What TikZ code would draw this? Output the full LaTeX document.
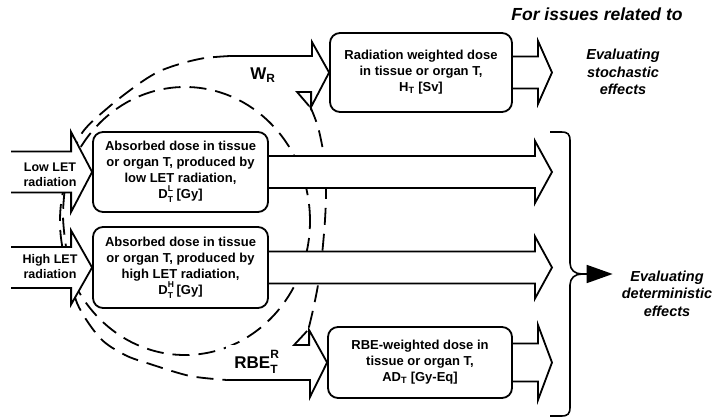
\documentclass[tikz,border=0pt]{standalone}
\usepackage{fontspec}
\setmainfont{Liberation Sans}
\usetikzlibrary{arrows.meta,backgrounds}

% block arrow: tip, length, head length, half shaft, half head
\newcommand\blockarrow[5]{%
  \fill[white] #1 -- ++(-#3,-#5) -- ++(0,#5-#4) -- ++(#3-#2,0) -- ++(0,2*#4) -- ++(#2-#3,0) -- ++(0,#5-#4) -- cycle;
  \draw[blk] #1 ++(-#2,-#4) -- ++(#2-#3,0) -- ++(0,#4-#5) -- #1 -- ++(-#3,#5) -- ++(0,#4-#5) -- ++(#3-#2,0);
}
% stacked super- and subscript
\newcommand\supsub[3]{\rlap{\raisebox{1.05ex}{\fontsize{#3}{#3}\selectfont #1}}\raisebox{-0.55ex}{\fontsize{#3}{#3}\selectfont #2}}

\begin{document}
\begin{tikzpicture}[
	x=1pt, y=-1pt,
	line width=1.8pt,
	font=\fontsize{13}{16}\selectfont\bfseries,
	box/.style={draw, fill=white, rounded corners=10pt, align=center, inner sep=0pt},
	blk/.style={black, line width=1.8pt, line join=miter},
	dashline/.style={black, line width=1.8pt, dash pattern=on 17pt off 9pt},
	effect/.style={align=center, font=\fontsize{14.5}{17.5}\selectfont\bfseries\itshape},
	lbl/.style={font=\fontsize{17}{17}\selectfont\bfseries}
	]
\useasboundingbox (0,0) rectangle (715,417);

% boxes
\node[box, minimum width=182pt, minimum height=79pt] (wr) at (421,72.5)
	{Radiation weighted dose\\in tissue or organ T,\\H\textsubscript{T} [Sv]};
\node[box, minimum width=175pt, minimum height=80pt] (low) at (180.5,172)
	{Absorbed dose in tissue\\or organ T, produced by\\low LET radiation,\\D\supsub{L}{T}{8.5} [Gy]};
\node[box, minimum width=175pt, minimum height=81pt] (high) at (180.5,267.5)
	{Absorbed dose in tissue\\or organ T, produced by\\high LET radiation,\\D\supsub{H}{T}{8.5} [Gy]};
\node[box, minimum width=184pt, minimum height=71pt] (rbe) at (420,362.5)
	{RBE-weighted dose in\\tissue or organ T,\\AD\textsubscript{T} [Gy-Eq]};

% texts
\node[font=\fontsize{17.5}{18}\selectfont\bfseries\itshape] (title) at (597,14) {For issues related to};
\node[effect] (stoch) at (623,72) {Evaluating\\stochastic\\effects};
\node[effect] (det) at (667,293.5) {Evaluating\\deterministic\\effects};
\node[align=center, font=\fontsize{12.5}{15}\selectfont\bfseries] (lowlbl) at (50,174.5) {Low LET\\radiation};
\node[align=center, font=\fontsize{12.5}{15}\selectfont\bfseries] (highlbl) at (50,266.5) {High LET\\radiation};
\node[lbl] (wrlbl) at (263,75) {W\textsubscript{R}};
\node[lbl] (rbelbl) at (256,362) {RBE\supsub{R}{T}{12}};

\coordinate (wrtail) at (230,56);
\coordinate (rbetail) at (227,380);
\coordinate (wrout) at (552,72.5);
\coordinate (lowout) at (552,172);
\coordinate (highout) at (552,267.5);
\coordinate (rbeout) at (552,362.5);

\begin{scope}[on background layer]
% dashed loops
\draw[dashline] (185,221) ellipse [x radius=125pt, y radius=134pt];
\draw[dashline] plot[smooth] coordinates {(wrtail) (205,58) (183,63) (160,71) (140,83) (110,106) (82,133) (68,170) (63,215) (68,260) (77,303) (100,338) (125,355) (150,364) (190,376) (rbetail)};
\draw[dashline] plot[smooth] coordinates {(310,106) (318,127) (324,157) (326,190) (325,220) (322,255) (318,285) (313,310) (308,331)};

% W_R and RBE arrows
\fill[white] (wrtail) -- ++(82,0) -- ++(0,-14) -- (wr.west) -- ++(-18,34.5) -- ++(0,-15) -- ++(-82,0) -- cycle;
\draw[blk] (wrtail) -- ++(82,0) -- ++(0,-14) -- (wr.west) -- ++(-18,34.5) -- ++(0,-15) -- ++(-14,0) -- ++(12,14);
\fill[white] (rbetail) -- ++(83,0) -- ++(0,17) -- (rbe.west) -- ++(-18,-32.5) -- ++(0,15) -- ++(-83,0) -- cycle;
\draw[blk] (rbetail) -- ++(83,0) -- ++(0,17) -- (rbe.west) -- ++(-18,-32.5) -- ++(0,15) -- ++(-15,0) -- ++(13,-14);

% input arrows
\blockarrow{(low.west)}{81}{21}{20.5}{40}
\blockarrow{(high.west)}{81}{21}{20.5}{37}

% output arrows
\blockarrow{(wrout)}{50}{14}{16}{31.5}
\blockarrow{(lowout)}{300}{17}{16}{31}
\blockarrow{(highout)}{300}{17}{16}{31}
\blockarrow{(rbeout)}{50}{14}{19}{37.5}
\end{scope}

% brace
\coordinate (brtop) at (550,132);
\coordinate (brbot) at (550,416);
\coordinate (brtip) at (582,274);
\draw[line width=1.6pt] (brtop) -- (561,132) .. controls (568,132) and (570,134) .. (570,141) -- (570,263)
	.. controls (570,270) and (575,274) .. (brtip) .. controls (575,274) and (570,278) .. (570,285)
	-- (570,407) .. controls (570,414) and (568,416) .. (561,416) -- (brbot);
\draw[-{Triangle[length=26pt,width=18pt]}, shorten >=5pt] (brtip) -- (brtip -| det.west);

\end{tikzpicture}
\end{document}
